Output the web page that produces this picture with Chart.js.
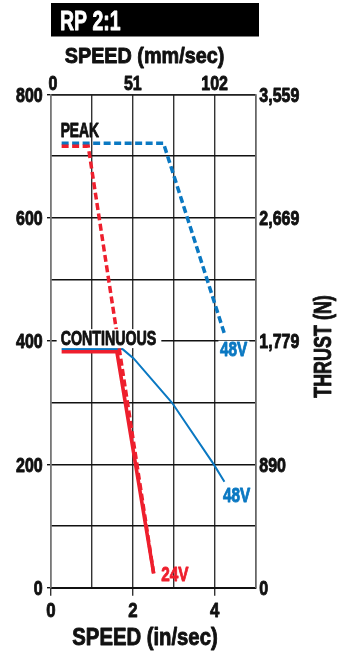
<!DOCTYPE html>
<html lang="en">
<head>
<meta charset="utf-8">
<title>RP 2:1</title>
<script src="https://cdn.jsdelivr.net/npm/chart.js@4.4.0/dist/chart.umd.min.js"></script>
<style>
  html, body { margin: 0; padding: 0; background: #fff; }
  canvas { display: block; }
</style>
</head>
<body>
<canvas id="chart" width="349" height="654"></canvas>
<script>
// speed in in/sec, thrust in lbf
var peak48X = [0.26, 2.75, 4.24];
var peak48Y = [721, 721, 412];
var peak24X = [0.26, 0.91, 2.51];
var peak24Y = [716, 716, 23];
var cont48X = [0.26, 1.75, 2.02, 2.96, 3.98, 4.24];
var cont48Y = [387, 387, 372, 300, 200, 172];
var cont24X = [0.26, 1.61, 2.51];
var cont24Y = [383, 383, 23];

var mmLabels = ['0', '', '51', '', '102', ''];
var thrustLabels = ['0', '890', '1,779', '2,669', '3,559'];

// no condensed face installed, so text is squeezed horizontally
var FONT = '"Liberation Sans", Arial, sans-serif';
var BLUE = '#0a78c2';
var RED = '#ee1f2d';
var INK = '#111';

function pts(xs, ys) {
  var out = [];
  for (var i = 0; i < xs.length; i++) out.push({x: xs[i], y: ys[i]});
  return out;
}

function put(ctx, s, x, y, size, color, align, sx) {
  ctx.save();
  ctx.translate(x, y);
  ctx.scale(sx || 1, 1);
  ctx.font = 'bold ' + size + 'px ' + FONT;
  ctx.fillStyle = color;
  ctx.strokeStyle = color;
  ctx.lineWidth = 0.9;
  ctx.lineJoin = 'round';
  ctx.textAlign = align || 'left';
  ctx.textBaseline = 'alphabetic';
  ctx.fillText(s, 0, 0);
  ctx.strokeText(s, 0, 0);
  ctx.restore();
}

function textWidth(ctx, s, size, sx) {
  ctx.font = 'bold ' + size + 'px ' + FONT;
  return ctx.measureText(s).width * sx;
}

function eachTick(scale, fn) {
  scale.ticks.forEach(function(t, i) {
    if (t.label === '' || t.label == null) return;
    fn(String(t.label), scale.getPixelForValue(t.value), i);
  });
}

var chartText = {
  id: 'chartText',
  afterDraw: function(chart) {
    var ctx = chart.ctx;
    var xs = chart.scales.x, ys = chart.scales.y;
    var area = chart.chartArea;
    var TS = 20, TX = 0.8;
    ctx.save();

    // tick labels, from the scales' own ticks
    eachTick(ys, function(s, p) { put(ctx, s, area.left - 8.3, p + 7.2, TS, INK, 'right', TX); });
    eachTick(chart.scales.y2, function(s, p) { put(ctx, s, area.right + 3.8, p + 7.2, TS, INK, 'left', TX); });
    eachTick(chart.scales.x2, function(s, p, i) { put(ctx, s, p + (i === 0 ? 2 : 0), area.top - 5, TS, INK, 'center', TX); });
    eachTick(xs, function(s, p) { put(ctx, s, p, area.bottom + 29, TS + 1, INK, 'center', TX); });

    // title box
    ctx.fillStyle = '#000';
    ctx.fillRect(area.left, 3, 208, 33.5);
    put(ctx, 'RP 2:1', area.left + 9, 30, 27, '#fff', 'left', 0.72);

    put(ctx, 'SPEED (mm/sec)', 144.5, 63.3, 22.5, INK, 'center', 0.88);
    put(ctx, 'SPEED (in/sec)', 145, 645, 23.3, INK, 'center', 0.87);

    ctx.save();
    ctx.translate(331, 346.5);
    ctx.rotate(-Math.PI / 2);
    put(ctx, 'THRUST (N)', 0, 0, 23, INK, 'center', 0.78);
    ctx.restore();

    // curve labels
    var px = xs.getPixelForValue(peak48X[0]);
    put(ctx, 'PEAK', px - 1, ys.getPixelForValue(peak48Y[0]) - 6.5, 19.5, INK, 'left', 0.71);

    var cy = ys.getPixelForValue(400);
    var cw = textWidth(ctx, 'CONTINUOUS', 19.5, 0.73);
    ctx.fillStyle = '#fff';
    ctx.fillRect(px - 5, cy - 12, cw + 9, 19);
    put(ctx, 'CONTINUOUS', px - 1, cy + 3.5, 19.5, INK, 'left', 0.73);

    var n = peak48X.length - 1;
    var ex = xs.getPixelForValue(peak48X[n]), ey = ys.getPixelForValue(peak48Y[n]);
    ctx.fillStyle = '#fff';
    ctx.fillRect(ex - 6, ey + 7, 31, 16);
    put(ctx, '48V', ex - 4.5, ey + 22.5, 21, BLUE, 'left', 0.73);

    n = cont48X.length - 1;
    ex = xs.getPixelForValue(cont48X[n]); ey = ys.getPixelForValue(cont48Y[n]);
    put(ctx, '48V', ex - 1.5, ey + 20, 21, BLUE, 'left', 0.73);

    n = peak24X.length - 1;
    ex = xs.getPixelForValue(peak24X[n]); ey = ys.getPixelForValue(peak24Y[n]);
    put(ctx, '24V', ex + 7.5, ey + 7.2, 21, RED, 'left', 0.73);

    ctx.restore();
  }
};

new Chart(document.getElementById('chart'), {
  type: 'line',
  data: {
    datasets: [
      {label: 'Peak 24V', data: pts(peak24X, peak24Y), borderColor: RED, borderWidth: 3.5, borderDash: [7, 3.5]},
      {label: 'Peak 48V', data: pts(peak48X, peak48Y), borderColor: BLUE, borderWidth: 3.5, borderDash: [7, 3.5]},
      {label: 'Continuous 48V', data: pts(cont48X, cont48Y), borderColor: BLUE, borderWidth: 2},
      {label: 'Continuous 24V', data: pts(cont24X, cont24Y), borderColor: RED, borderWidth: 3.6}
    ]
  },
  options: {
    responsive: false,
    animation: false,
    layout: {padding: 0},
    elements: {point: {radius: 0}, line: {tension: 0, fill: false, borderCapStyle: 'butt'}},
    plugins: {legend: {display: false}, tooltip: {enabled: false}, title: {display: false}},
    scales: {
      x: {
        type: 'linear', position: 'bottom', min: 0, max: 5,
        ticks: {display: false, stepSize: 1, autoSkip: false,
          callback: function(v) { return v % 2 === 0 ? v : ''; }},
        grid: {color: '#333', lineWidth: 1.4, tickLength: 8,
          tickColor: function(c) { return c.tick && c.tick.value % 2 === 0 ? '#333' : 'transparent'; }},
        border: {color: INK, width: 2},
        afterFit: function(s) { s.height = 66.3; }
      },
      x2: {
        type: 'linear', position: 'top', min: 0, max: 5,
        ticks: {display: false, stepSize: 1, autoSkip: false,
          callback: function(v, i) { return mmLabels[i]; }},
        grid: {drawOnChartArea: false, drawTicks: false},
        border: {color: '#222', width: 1.5},
        afterFit: function(s) { s.height = 94.5; }
      },
      y: {
        min: 0, max: 800,
        ticks: {display: false, stepSize: 100, autoSkip: false,
          callback: function(v) { return v % 200 === 0 ? v : ''; }},
        grid: {color: '#111', lineWidth: 1.4, tickLength: 4,
          tickColor: function(c) { return c.tick && c.tick.value % 200 === 0 ? '#111' : 'transparent'; }},
        border: {color: '#777', width: 1.5},
        afterFit: function(s) { s.width = 51; }
      },
      y2: {
        position: 'right', min: 0, max: 800,
        ticks: {display: false, stepSize: 200, autoSkip: false,
          callback: function(v, i) { return thrustLabels[i]; }},
        grid: {drawOnChartArea: false, drawTicks: false},
        border: {color: '#666', width: 1.5},
        afterFit: function(s) { s.width = 93.5; }
      }
    }
  },
  plugins: [chartText]
});
</script>
</body>
</html>
